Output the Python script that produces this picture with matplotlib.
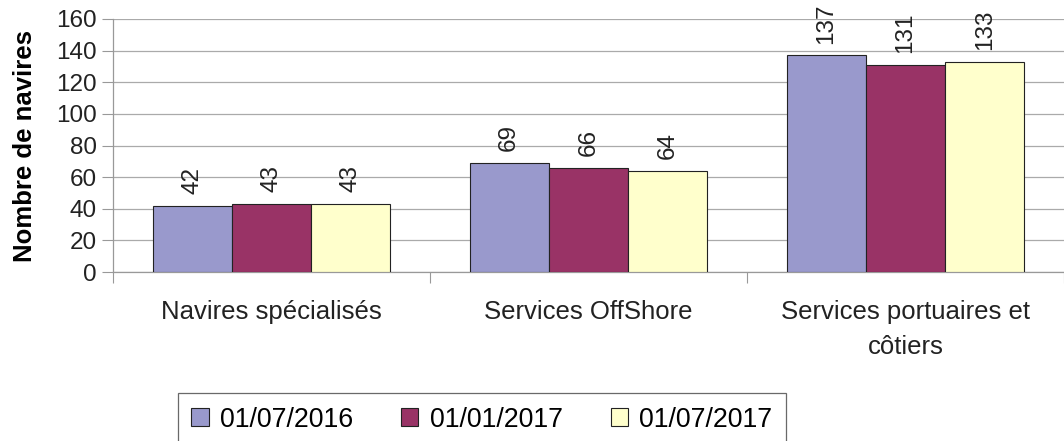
import numpy as np
import matplotlib.pyplot as plt
from matplotlib.ticker import FixedLocator

plt.rcParams['font.family'] = ['Liberation Sans', 'DejaVu Sans']

categories = ["Navires spécialisés", "Services OffShore", "Services portuaires et\ncôtiers"]
series_names = ["01/07/2016", "01/01/2017", "01/07/2017"]
values_2016_07 = [42, 69, 137]
values_2017_01 = [43, 66, 131]
values_2017_07 = [43, 64, 133]
colors = ["#9999CC", "#993366", "#FFFFCC"]

fig = plt.figure(figsize=(10.64, 4.41), dpi=100)
ax = fig.add_axes([0.1062, 0.383, 0.8938, 0.574])

x = np.arange(len(categories)) + 0.5
width = 0.25
all_values = [values_2016_07, values_2017_01, values_2017_07]
for i, (vals, name, col) in enumerate(zip(all_values, series_names, colors)):
    pos = x + (i - 1) * width
    ax.bar(pos, vals, width, color=col, edgecolor="#222222", linewidth=0.8, label=name, zorder=3)
    for p, v in zip(pos, vals):
        ax.annotate(str(v), (p, v), xytext=(0, 8.5), textcoords="offset points",
                    rotation=90, ha="center", va="bottom", fontsize=17.5, color="#222222")

ax.set_xlim(0, 3)
ax.set_ylim(0, 160)
ax.set_yticks(range(0, 161, 20))
ax.tick_params(axis="y", labelsize=17.5, length=8, color="#999999", colors="#222222", width=0.8)
ax.yaxis.grid(True, color="#aaaaaa", linewidth=0.9, zorder=0)
ax.set_xticks(x)
ax.set_xticklabels(categories, fontsize=18.5, color="#222222", linespacing=1.6)
ax.tick_params(axis="x", which="major", length=0, pad=20)
ax.xaxis.set_minor_locator(FixedLocator([0, 1, 2, 3]))
ax.tick_params(axis="x", which="minor", length=8, color="#999999", width=0.8)
ax.set_ylabel("Nombre de navires", fontsize=18.5, fontweight="bold", labelpad=14)

for s in ["top", "right"]:
    ax.spines[s].set_visible(False)
for s in ["left", "bottom"]:
    ax.spines[s].set_color("#999999")
    ax.spines[s].set_linewidth(0.9)

leg = fig.legend(loc="upper center", bbox_to_anchor=(0.453, 0.108), ncol=3,
                 fontsize=19.3, frameon=True, fancybox=False, handlelength=0.64,
                 handleheight=0.64, handletextpad=0.42, columnspacing=1.8,
                 borderpad=0.5, borderaxespad=0)
leg.get_frame().set_edgecolor("#444444")
leg.get_frame().set_linewidth(0.9)

fig.savefig("out.png", dpi=100)
